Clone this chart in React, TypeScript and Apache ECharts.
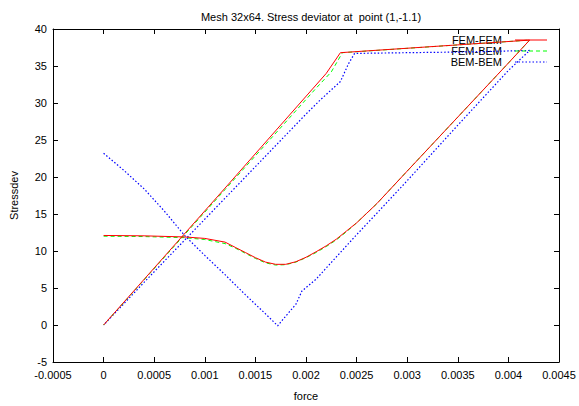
import React, { useEffect, useRef } from "react";
import * as echarts from "echarts";

const titleText = "Mesh 32x64. Stress deviator at  point (1,-1.1)";
const xName = "force";
const yName = "Stressdev";
const seriesNames = ["FEM-FEM", "FEM-BEM", "BEM-BEM"];
const seriesColors = ["#ff0000", "#00ff00", "#0000ff"];

const xRange = [-0.0005, 0.0045, 0.0005];
const yRange = [-5, 40, 5];

const femFem: number[][] = [
  [0, 12.1], [0.0004, 12.05], [0.0008, 11.9], [0.001, 11.7], [0.0012, 11.2],
  [0.0013, 10.5], [0.0014, 9.8], [0.0015, 9.1], [0.0016, 8.5], [0.0017, 8.2],
  [0.0018, 8.2], [0.0019, 8.55], [0.002, 9.15], [0.0021, 9.9], [0.0022, 10.7],
  [0.0023, 11.6], [0.0024, 12.7], [0.0025, 13.8], [0.0026, 15.1], [0.0027, 16.4],
  [0.003, 20.8], [0.0035, 28.1], [0.004, 35.4], [0.00421, 38.5],
  [0.00234, 36.8], [0.0022, 34.0], [0.0012, 18.5], [0, 0],
];

const femBem: number[][] = [
  [0, 12.0], [0.0004, 11.95], [0.0008, 11.8], [0.001, 11.55], [0.0012, 11.0],
  [0.0013, 10.4], [0.0014, 9.7], [0.0015, 9.0], [0.0016, 8.4], [0.0017, 8.1],
  [0.0018, 8.15], [0.0019, 8.5], [0.002, 9.1], [0.0021, 9.8], [0.0022, 10.6],
  [0.0023, 11.5], [0.0024, 12.6], [0.0025, 13.8], [0.0026, 15.1], [0.0027, 16.4],
  [0.003, 20.8], [0.0035, 28.1], [0.004, 35.4], [0.00421, 38.5],
  [0.00236, 36.8], [0.00225, 34.2], [0.0021, 32.0], [0.0012, 18.3], [0, 0],
];

const bemBem: number[][] = [
  [0, 23.2], [0.0002, 20.9], [0.0004, 18.4], [0.0006, 15.4], [0.0008, 12.1],
  [0.001, 9.4], [0.0012, 6.8], [0.0014, 4.1], [0.0016, 1.5], [0.00172, -0.1],
  [0.0018, 1.2], [0.0019, 2.8], [0.00196, 4.6], [0.0021, 6.2], [0.0023, 9.2],
  [0.0025, 12.2], [0.0027, 15.1], [0.003, 19.5], [0.0035, 27.0], [0.004, 34.4],
  [0.00421, 37.1], [0.0036, 36.9], [0.003, 36.8], [0.00248, 36.7],
  [0.00242, 35.3], [0.00234, 32.9], [0.00214, 30.4], [0.002, 28.5],
  [0.0015, 21.4], [0.001, 14.3], [0.0005, 7.2], [0, 0],
];

const seriesData = [femFem, femBem, bemBem];
const seriesDash: any[] = ["solid", [4, 3], [1.5, 2]];

const FONT = "Liberation Sans, Arial, sans-serif";

export default function App() {
  const ref = useRef<HTMLDivElement>(null);
  useEffect(() => {
    if (!ref.current) return;
    const chart = echarts.init(ref.current, undefined, { renderer: "svg" });
    const fmt = (v: number) => String(parseFloat(v.toFixed(6)));
    const axisLine = { show: true, onZero: false, lineStyle: { color: "#000", width: 1 } };
    const tick = { show: true, inside: true, length: 5, lineStyle: { color: "#000" } };
    const label = { color: "#000", fontSize: 11, fontFamily: FONT };
    const legendY = [40, 51, 62];
    const graphics: any[] = [];
    seriesNames.forEach((n, i) => {
      graphics.push({
        type: "text",
        x: 502,
        y: legendY[i],
        style: { text: n, fill: "#000", font: `11px ${FONT}`, textAlign: "right", textVerticalAlign: "middle" },
        z: 1,
      });
      graphics.push({
        type: "line",
        shape: { x1: 515, y1: legendY[i], x2: 547, y2: legendY[i] },
        style: { stroke: seriesColors[i], lineWidth: 1, lineDash: i === 0 ? null : seriesDash[i] },
        z: 5,
      });
    });
    chart.setOption({
      animation: false,
      backgroundColor: "#fff",
      title: {
        text: titleText,
        left: 306,
        top: 6,
        textAlign: "center",
        textStyle: { fontSize: 11, fontWeight: "normal", color: "#000", fontFamily: FONT },
      },
      grid: { left: 53, top: 29, right: 20, bottom: 42, containLabel: false },
      xAxis: [
        {
          type: "value",
          min: xRange[0],
          max: xRange[1],
          interval: xRange[2],
          name: xName,
          nameLocation: "middle",
          nameGap: 28,
          nameTextStyle: label,
          axisLine,
          axisTick: tick,
          axisLabel: { ...label, margin: 7, formatter: fmt },
          splitLine: { show: false },
        },
        {
          type: "value",
          position: "top",
          min: xRange[0],
          max: xRange[1],
          interval: xRange[2],
          axisLine,
          axisTick: tick,
          axisLabel: { show: false },
          splitLine: { show: false },
        },
      ],
      yAxis: [
        {
          type: "value",
          min: yRange[0],
          max: yRange[1],
          interval: yRange[2],
          name: yName,
          nameLocation: "middle",
          nameGap: 34,
          nameRotate: 90,
          nameTextStyle: label,
          axisLine,
          axisTick: tick,
          axisLabel: { ...label, margin: 6 },
          splitLine: { show: false },
        },
        {
          type: "value",
          position: "right",
          min: yRange[0],
          max: yRange[1],
          interval: yRange[2],
          axisLine,
          axisTick: tick,
          axisLabel: { show: false },
          splitLine: { show: false },
        },
      ],
      graphic: graphics,
      series: seriesData.map((d, i) => ({
        name: seriesNames[i],
        type: "line",
        data: d,
        xAxisIndex: 0,
        yAxisIndex: 0,
        showSymbol: false,
        symbol: "none",
        smooth: false,
        lineStyle: { color: seriesColors[i], width: i === 2 ? 1.2 : 1, type: seriesDash[i] },
        z: 3 - i + 2,
      })),
    });
    return () => chart.dispose();
  }, []);
  return (
    <div
      ref={ref}
      style={{ position: "fixed", left: 0, top: 0, width: 579, height: 406, background: "#fff" }}
    />
  );
}
